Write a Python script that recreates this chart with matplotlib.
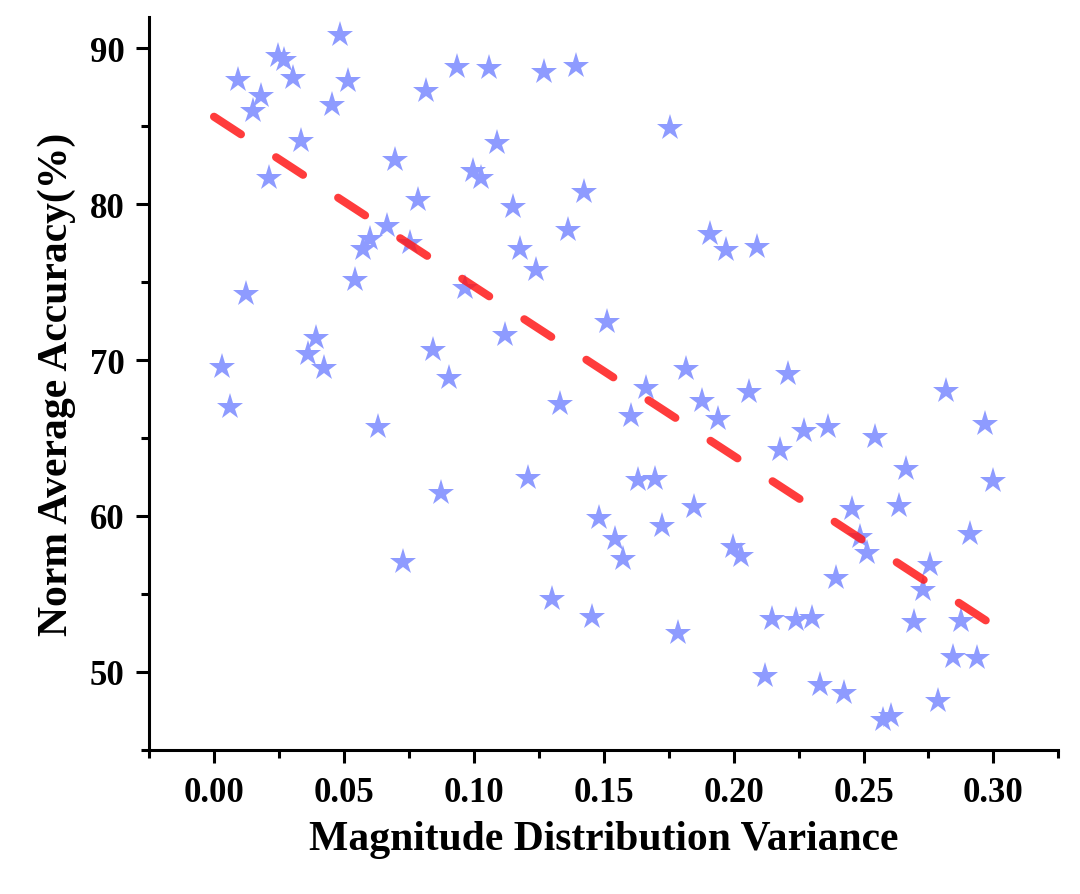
import numpy as np
import matplotlib.pyplot as plt
from matplotlib.ticker import MultipleLocator

plt.rcParams['font.family'] = ['Liberation Serif', 'DejaVu Serif']
plt.rcParams['font.weight'] = 'bold'

# values
variance = [0.0031, 0.0062, 0.0092, 0.0123, 0.0150, 0.0181, 0.0212, 0.0246, 0.0270, 0.0304,
            0.0335, 0.0362, 0.0393, 0.0424, 0.0454, 0.0485, 0.0516, 0.0543, 0.0574, 0.0601,
            0.0632, 0.0666, 0.0697, 0.0728, 0.0755, 0.0786, 0.0816, 0.0843, 0.0874, 0.0905,
            0.0936, 0.0967, 0.0997, 0.1028, 0.1059, 0.1090, 0.1121, 0.1151, 0.1178, 0.1209,
            0.1240, 0.1271, 0.1302, 0.1332, 0.1363, 0.1394, 0.1425, 0.1456, 0.1483, 0.1513,
            0.1544, 0.1575, 0.1606, 0.1633, 0.1664, 0.1698, 0.1725, 0.1756, 0.1787, 0.1818,
            0.1848, 0.1879, 0.1910, 0.1941, 0.1972, 0.1999, 0.2030, 0.2060, 0.2091, 0.2122,
            0.2149, 0.2180, 0.2211, 0.2241, 0.2272, 0.2303, 0.2334, 0.2365, 0.2395, 0.2426,
            0.2457, 0.2488, 0.2515, 0.2546, 0.2576, 0.2607, 0.2638, 0.2665, 0.2696, 0.2727,
            0.2757, 0.2788, 0.2819, 0.2846, 0.2877, 0.2908, 0.2938, 0.2969, 0.3000]
accuracy = [69.55, 66.98, 87.94, 74.24, 85.95, 86.90, 81.64, 89.49, 89.23, 88.07,
            84.02, 70.39, 71.41, 69.49, 86.33, 90.84, 87.88, 75.14, 77.14, 77.78,
            65.69, 78.62, 82.80, 57.07, 77.52, 80.29, 87.23, 70.64, 61.45, 68.84,
            88.78, 74.63, 82.09, 81.64, 88.71, 83.89, 71.61, 79.84, 77.14, 62.41,
            75.79, 88.46, 54.69, 67.17, 78.36, 88.84, 80.80, 53.54, 59.84, 72.44,
            58.55, 57.27, 66.40, 62.28, 68.20, 62.35, 59.33, 84.86, 52.51, 69.42,
            60.55, 67.36, 78.10, 66.21, 77.07, 58.04, 57.46, 67.94, 77.27, 49.74,
            53.41, 64.21, 69.10, 53.34, 65.43, 53.47, 49.16, 65.69, 56.05, 48.65,
            60.42, 58.68, 57.65, 65.05, 46.91, 47.17, 60.61, 62.99, 53.22, 55.27,
            56.88, 48.13, 68.01, 50.96, 53.28, 58.87, 50.90, 65.88, 62.22]

# trend line end points as drawn in the reference
trend_x = [0.0, 0.298]
trend_y = [85.6, 53.2]

xticks = [0, 0.05, 0.10, 0.15, 0.20, 0.25, 0.30]
xtick_labels = ['0.00', '0.05', '0.10', '0.15', '0.20', '0.25', '0.30']
yticks = [50, 60, 70, 80, 90]

fig = plt.figure(figsize=(10.8, 8.95), dpi=100)
ax = fig.add_axes([0.138, 0.161, 0.842, 0.819])

ax.plot(variance, accuracy, linestyle='none', marker='*', markersize=19.5,
        color='#8E9BFF', markeredgewidth=0)
ax.plot(trend_x, trend_y, color='#FF1A1A', alpha=0.85, linewidth=5.8,
        dashes=(4, 5.2), solid_capstyle='round', dash_capstyle='round')

ax.set_xlim(-0.025, 0.325)
ax.set_ylim(45, 92)
ax.xaxis.set_minor_locator(MultipleLocator(0.025))
ax.yaxis.set_minor_locator(MultipleLocator(5))
ax.set_xticks(xticks)
ax.set_xticklabels(xtick_labels)
ax.set_yticks(yticks)

for s in ['top', 'right']:
    ax.spines[s].set_visible(False)
for s in ['left', 'bottom']:
    ax.spines[s].set_linewidth(2.2)

ax.tick_params(which='major', direction='out', length=9.5, width=2.2,
               labelsize=25, pad=9)
ax.tick_params(axis='y', which='major', pad=8)
ax.tick_params(which='minor', direction='out', length=5.5, width=2.2)
for lab in ax.get_xticklabels() + ax.get_yticklabels():
    lab.set_fontweight('bold')

ax.set_xlabel('Magnitude Distribution Variance', fontsize=30, fontweight='bold', labelpad=8)
ax.set_ylabel('Norm Average Accuracy(%)', fontsize=30, fontweight='bold', labelpad=10)

fig.savefig('out.png', dpi=100)
